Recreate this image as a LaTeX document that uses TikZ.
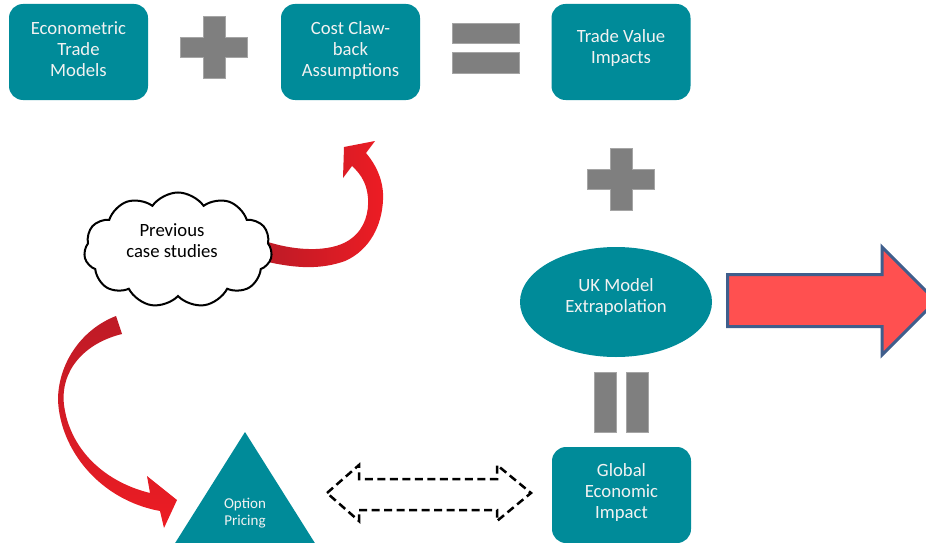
\documentclass[tikz,border=0pt]{standalone}
\usepackage{fontspec}
\setmainfont{Carlito}
\usetikzlibrary{shapes.geometric,shapes.symbols}

\definecolor{boxteal}{RGB}{0,139,153}
\definecolor{boxtext}{RGB}{242,242,242}
\definecolor{opgray}{RGB}{127,127,127}
\definecolor{arrowred}{RGB}{237,28,36}
\definecolor{arrowdark}{RGB}{190,27,38}
\definecolor{bigfill}{RGB}{255,80,80}
\definecolor{bigedge}{RGB}{63,94,140}

%	raise a few lines of text inside a shape
\def\lift#1#2{\raisebox{#1}[\height][\depth]{\begin{tabular}{@{}c@{}}#2\end{tabular}}}

\tikzset{
	block/.style = {fill=boxteal, rounded corners=14pt, minimum width=139pt, minimum height=96pt, text=boxtext, inner sep=0pt, font=\fontsize{18.7}{21}\selectfont},
	op/.style = {fill=opgray, draw=opgray!70!white, line width=0.6pt},
	plussign/.pic = {\draw[op] (-33.5,-10) -- (-11,-10) -- (-11,-31) -- (11,-31) -- (11,-10) -- (33.5,-10) -- (33.5,10) -- (11,10) -- (11,31) -- (-11,31) -- (-11,10) -- (-33.5,10) -- cycle;},
}

\begin{document}
\begin{tikzpicture}[x=1pt, y=-1pt]
	%	canvas
	\clip (0,0) rectangle (926,543);
	
	%	top row
	\node[block] (econ) at (78.5,52) {\lift{1pt}{Econometric\\Trade\\Models}};
	\node[block] (cost) at (350.5,52) {\lift{1pt}{Cost Claw-\\back\\Assumptions}};
	\node[block] (trade) at (621,52) {\lift{3.5pt}{Trade Value\\Impacts}};
	
	%	plus, equals
	\pic at (214,47.5) {plussign};
	\draw[op] (452,23) rectangle (519,43);
	\draw[op] (452,52) rectangle (519,73);
	\pic at (621,179) {plussign};
	\draw[op] (594,372) rectangle (616,432);
	\draw[op] (626,372) rectangle (648,432);
	
	%	right column
	\node[block, ellipse, rounded corners=0pt, minimum width=192pt, minimum height=110pt] (uk) at (616,302) {\lift{4.5pt}{UK Model\\Extrapolation}};
	\node[block] (global) at (621.5,495) {\lift{1.5pt}{Global\\Economic\\Impact}};
	\draw[line width=3pt, draw=bigedge, fill=bigfill] (727.5,274.5) -- (882,274.5) -- (882,247) -- (936,301) -- (882,355) -- (882,326.5) -- (727.5,326.5) -- cycle;
	
	%	triangle
	\fill[boxteal] (245,432) -- (172,548) -- (318,548) -- cycle;
	\node[text=boxtext, align=center, font=\fontsize{15}{17}\selectfont] (option) at (245,513) {Option\\Pricing};
	
	%	dashed two-way arrow
	\draw[line width=2.5pt, dash pattern=on 8pt off 4.5pt] (327,493) -- (359,465) -- (359,479) -- (497,479) -- (497,465) -- (531,493) -- (497,521) -- (497,510) -- (359,510) -- (359,521) -- cycle;
	
	%	red arrows
	\shade[left color=arrowdark, right color=arrowred]
		(268,242) .. controls (300,252) and (335,252) .. (352,238)
		.. controls (365,228) and (369,212) .. (368,198)
		.. controls (367,185) and (362,175) .. (352,166)
		-- (343,178) -- (344,147) -- (375,141) -- (366,153)
		.. controls (377,166) and (384,182) .. (383,200)
		.. controls (382,225) and (370,250) .. (345,261)
		.. controls (320,270) and (295,268) .. (268,262) -- cycle;
	\shade[top color=arrowdark, bottom color=arrowred]
		(116,316) .. controls (80,330) and (58,365) .. (58,400)
		.. controls (60,450) and (100,500) .. (160,511)
		-- (164,528) -- (177,500) -- (147,476) -- (150,493)
		.. controls (105,482) and (70,450) .. (64,405)
		.. controls (60,370) and (85,343) .. (122,334) -- cycle;
	
	%	cloud
	\node[cloud, draw, fill=white, line width=2pt, cloud puffs=11, cloud puff arc=110, aspect=1.6, minimum width=188pt, minimum height=115pt] (prev) at (178,250) {};
	\node[align=center, font=\fontsize{18.7}{21}\selectfont] (prevtext) at (172,241) {Previous\\case studies};
\end{tikzpicture}
\end{document}
